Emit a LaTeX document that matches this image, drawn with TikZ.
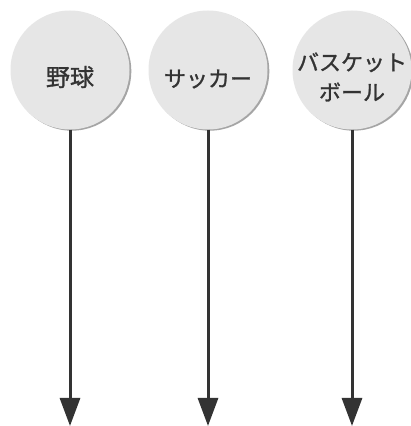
\documentclass[tikz,border=0pt]{standalone}
\usepackage{fontspec}
\newfontfamily\jp[FakeBold=1.2]{Noto Sans CJK JP}
\usetikzlibrary{arrows.meta,shadows}
\definecolor{ballfill}{HTML}{E6E6E6}
\definecolor{ink}{HTML}{333333}
\begin{document}
\begin{tikzpicture}[x=1pt,y=1pt,
  ball/.style={circle,minimum size=119pt,inner sep=0pt,fill=ballfill,
    drop shadow={shadow xshift=1.8pt,shadow yshift=-1.2pt,fill=black!50,opacity=0.7}},
  lbl/.style={font=\jp\fontsize{22}{30}\selectfont,text=ink,align=center},
  arr/.style={draw=ink,line width=3pt,-{Triangle[width=20pt,length=28pt]}}]
\useasboundingbox (0,0) rectangle (411,426);
\fill[white] (0,0) rectangle (411,426);
\node[ball] (c1) at (70,356) {};
\node[ball] (c2) at (208,356) {};
\node[ball] (c3) at (352,356) {};
\node[lbl,font=\jp\fontsize{24}{30}\selectfont] (t1) at (70,349) {野球};
\node[lbl] (t2) at (208,347) {サッカー};
\node[lbl] (t3) at (352,349) {バスケット\\ボール};
\coordinate (e1) at (70,0);
\coordinate (e2) at (208,0);
\coordinate (e3) at (352,0);
\draw[arr] (c1.south) -- (e1);
\draw[arr] (c2.south) -- (e2);
\draw[arr] (c3.south) -- (e3);
\end{tikzpicture}
\end{document}
